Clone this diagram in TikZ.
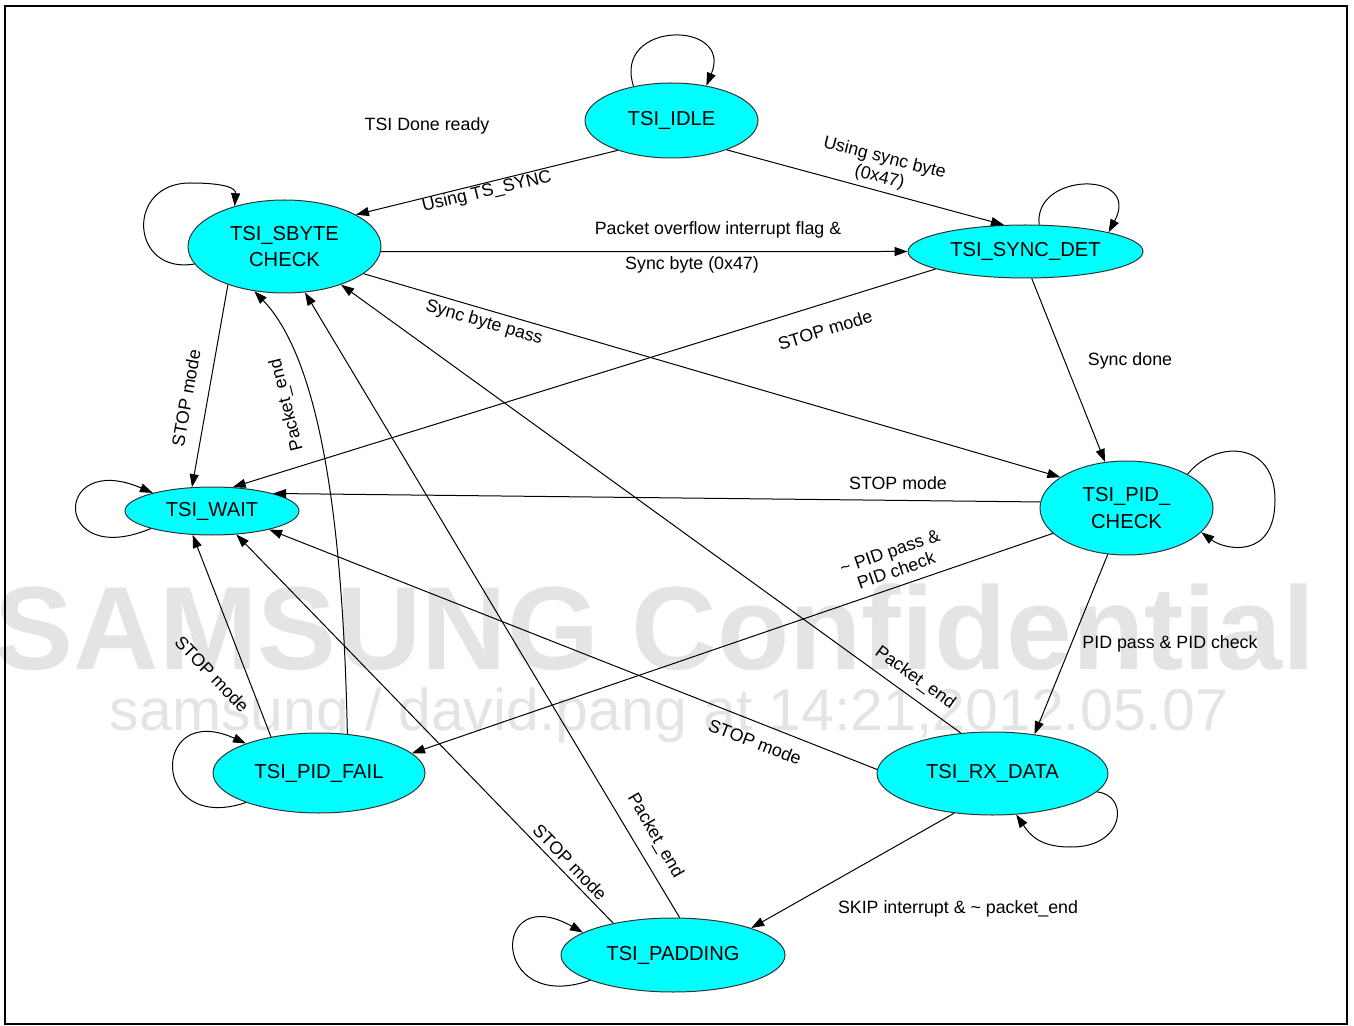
\documentclass[tikz,border=0pt]{standalone}
\usepackage{graphicx}
\usepackage{fontspec}
\setmainfont{Liberation Sans}
\usetikzlibrary{arrows.meta,shapes.geometric}
\definecolor{aqua}{RGB}{0,255,255}
\definecolor{wmgray}{RGB}{228,228,228}
\tikzset{
  st/.style={ellipse, draw=black!80, line width=0.5pt, fill=aqua, inner sep=0pt, align=center, font=\fontsize{10.1}{13.2}\selectfont},
  tr/.style={draw=black, line width=0.5pt, -{Triangle[length=6.5pt,width=4.5pt]}},
  lbl/.style={font=\fontsize{8.9}{10}\selectfont, inner sep=0pt, align=center},
  wm/.style={text=wmgray, inner sep=0pt}
}
\begin{document}
\begin{tikzpicture}[x=0.5pt,y=-0.5pt]
\useasboundingbox (0,0) rectangle (1354,1026);
% watermark
\node[wm] (wm1) at (655,627) {\resizebox{660pt}{!}{\bfseries SAMSUNG Confidential}};
\node[wm] (wm2) at (669,715) {\resizebox{559pt}{!}{samsung / david.pang at 14:21,2012.05.07}};
\draw[line width=0.6pt] (5,6) rectangle (1347,1024);
% states
\node[st, minimum width=86.5pt, minimum height=37.5pt] (idle) at (671.5,120.5) {TSI\_IDLE};
\node[st, minimum width=96.5pt, minimum height=46.5pt] (sbyte) at (284.5,246.5) {TSI\_SBYTE\\CHECK};
\node[st, minimum width=117.5pt, minimum height=26.5pt] (sync) at (1025.5,251.5) {TSI\_SYNC\_DET};
\node[st, minimum width=87pt, minimum height=24pt] (wait) at (212,511) {TSI\_WAIT};
\node[st, minimum width=86.5pt, minimum height=47pt] (pidc) at (1126.5,508) {TSI\_PID\_\\CHECK};
\node[st, minimum width=106pt, minimum height=40pt] (fail) at (319,773) {TSI\_PID\_FAIL};
\node[st, minimum width=115.5pt, minimum height=41.5pt] (rx) at (992.5,773.5) {TSI\_RX\_DATA};
\node[st, minimum width=112pt, minimum height=37pt] (pad) at (673,955) {TSI\_PADDING};
% transitions
\draw[tr] (idle.209) -- (sbyte.24);
\draw[tr] (idle.332) -- (sync.129);
\draw[tr] (sbyte.357) -- (sync.180);
\draw[tr] (sync.191) -- (wait.49);
\draw[tr] (sync.283) -- (pidc.115);
\draw[tr] (sbyte.341) -- (pidc.155);
\draw[tr] (pidc.176) -- (wait.16);
\draw[tr] (pidc.199) -- (fail.12);
\draw[tr] (pidc.248) -- (rx.43);
\draw[tr] (rx.128) -- (sbyte.326);
\draw[tr] (rx.178) -- (wait.342);
\draw[tr] (rx.226) -- (pad.19);
\draw[tr] (pad.80) -- (sbyte.294);
\draw[tr] (pad.152) -- (wait.316);
\draw[tr] (fail.143) -- (wait.231);
\draw[tr] (fail.54) .. controls (343,520) and (320,360) .. (sbyte.236);
\draw[tr] (sbyte.214) -- (wait.130);
% self loops
\draw[tr] (idle.138) .. controls (612,20) and (734,20) .. (idle.45);
\draw[tr] (sbyte.191) .. controls (130,275) and (125,183) .. (190,183) .. controls (225,183) and (236,188) .. (sbyte.141);
\draw[tr] (sync.63) .. controls (1033,172) and (1142,170) .. (sync.13);
\draw[tr] (wait.196) .. controls (52,570) and (52,450) .. (wait.163);
\draw[tr] (pidc.29) .. controls (1215,440) and (1275,440) .. (1275,500) .. controls (1275,560) and (1225,550) .. (pidc.342);
\draw[tr] (fail.202) .. controls (150,835) and (150,700) .. (fail.158);
\draw[tr] (rx.350) .. controls (1130,795) and (1125,848) .. (1070,847) .. controls (1040,847) and (1030,835) .. (rx.300);
\draw[tr] (pad.197) .. controls (490,1015) and (490,880) .. (pad.166);
% labels
\node[lbl] (l1) at (427,126) {TSI Done ready};
\node[lbl, rotate=13.5] (l2) at (487,192) {Using TS\_SYNC};
\node[lbl, rotate=-14.4] (l3) at (882,168) {Using sync byte\\(0x47)};
\node[lbl] (l4) at (718,230) {Packet overflow interrupt flag \&};
\node[lbl] (l5) at (692,265) {Sync byte (0x47)};
\node[lbl, rotate=17.3] (l6) at (825,330) {STOP mode};
\node[lbl] (l7) at (1130,361) {Sync done};
\node[lbl, rotate=-16.2] (l8) at (484,323) {Sync byte pass};
\node[lbl] (l9) at (898,483) {STOP mode};
\node[lbl, rotate=19] (l10) at (893,561) {\textasciitilde{} PID pass \&\\PID check};
\node[lbl] (l11) at (1170,644) {PID pass \& PID check};
\node[lbl, rotate=-36] (l12) at (915,678) {Packet\_end};
\node[lbl, rotate=-21] (l13) at (755,742) {STOP mode};
\node[lbl] (l14) at (958,909) {SKIP interrupt \& \textasciitilde{} packet\_end};
\node[lbl, rotate=-60] (l15) at (655,836) {Packet\_end};
\node[lbl, rotate=-46] (l16) at (570,862) {STOP mode};
\node[lbl, rotate=-46] (l17) at (212,674) {STOP mode};
\node[lbl, rotate=104] (l18) at (287,405) {Packet\_end};
\node[lbl, rotate=80] (l19) at (186,398) {STOP mode};
\end{tikzpicture}
\end{document}
